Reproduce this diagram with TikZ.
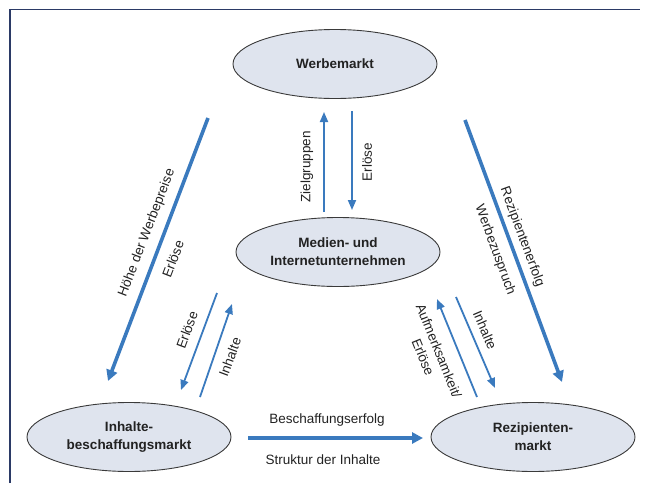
\documentclass[tikz,border=0pt]{standalone}
\usepackage{fontspec}
\setmainfont{Liberation Sans}
\usetikzlibrary{arrows.meta,shapes.geometric}
\definecolor{arrowblue}{HTML}{3A7ABE}
\definecolor{ellfill}{HTML}{DFE4EE}
\definecolor{ellline}{HTML}{3A3A3A}
\definecolor{framecol}{HTML}{2B3A66}
\definecolor{txt}{HTML}{222222}
\begin{document}
\begin{tikzpicture}[x=1pt,y=-1pt,
  market/.style={ellipse, draw=ellline, line width=0.9pt, fill=ellfill,
    minimum width=204pt, minimum height=69pt, inner sep=0pt, align=center,
    font=\fontsize{13.5}{18}\selectfont\bfseries, text=txt},
  bigarrow/.style={draw=arrowblue, line width=3.6pt, -{Triangle[length=11pt,width=11pt]}},
  thinarrow/.style={draw=arrowblue, line width=1.8pt, -{Triangle[length=10pt,width=8pt]}},
  lbl/.style={font=\fontsize{13.5}{17}\selectfont, text=txt, inner sep=0pt, align=center},
]
\useasboundingbox (0,0) rectangle (646,483);
% frame
\draw[framecol, line width=1.3pt] (10,483) -- (10,9.5) -- (640,9.5);

% markets
\node[market] (W) at (335,64) {Werbemarkt};
\node[market] (M) at (338,252) {Medien- und\\Internetunternehmen};
\node[market] (I) at (129,437) {Inhalte-\\beschaffungsmarkt};
\node[market] (R) at (533,437) {Rezipienten-\\markt};

% arrow end points
\coordinate (a1) at (208,118); \coordinate (a2) at (108,381);
\coordinate (b1) at (465,120); \coordinate (b2) at (562,382);
\coordinate (c1) at (324,212); \coordinate (c2) at (324,112);
\coordinate (d1) at (352,111); \coordinate (d2) at (352,210);
\coordinate (e1) at (217,293); \coordinate (e2) at (181,390);
\coordinate (f1) at (200,397); \coordinate (f2) at (232,304);
\coordinate (g1) at (477,397); \coordinate (g2) at (437,299);
\coordinate (h1) at (456,297); \coordinate (h2) at (495,388);
\coordinate (k1) at (248,438); \coordinate (k2) at (423,438);

% arrows
\draw[bigarrow] (a1) -- (a2);
\draw[bigarrow] (b1) -- (b2);
\draw[bigarrow] (k1) -- (k2);
\draw[thinarrow] (c1) -- (c2);
\draw[thinarrow] (d1) -- (d2);
\draw[thinarrow] (e1) -- (e2);
\draw[thinarrow] (f1) -- (f2);
\draw[thinarrow] (g1) -- (g2);
\draw[thinarrow] (h1) -- (h2);

% labels
\node[lbl, rotate=90] (lz) at (307,167) {Zielgruppen};
\node[lbl, rotate=90] (le1) at (367,162) {Erlöse};
\node[lbl, rotate=69] (lh) at (147,233) {Höhe der Werbepreise};
\node[lbl, rotate=69] (le2) at (173,259) {Erlöse};
\node[lbl, rotate=-69.7] (lr) at (522,237) {Rezipientenerfolg};
\node[lbl, rotate=-69.7] (lw) at (495,250) {Werbezuspruch};
\node[lbl, rotate=69.6] (le3) at (187,330) {Erlöse};
\node[lbl, rotate=69.6] (li1) at (230,357) {Inhalte};
\node[lbl, rotate=-68] (la) at (431,354) {Aufmerksamkeit/\\Erlöse};
\node[lbl, rotate=-66.8] (li2) at (485,330) {Inhalte};
\node[lbl] (lb) at (327,420) {Beschaffungserfolg};
\node[lbl] (ls) at (323,460) {Struktur der Inhalte};
\end{tikzpicture}
\end{document}
